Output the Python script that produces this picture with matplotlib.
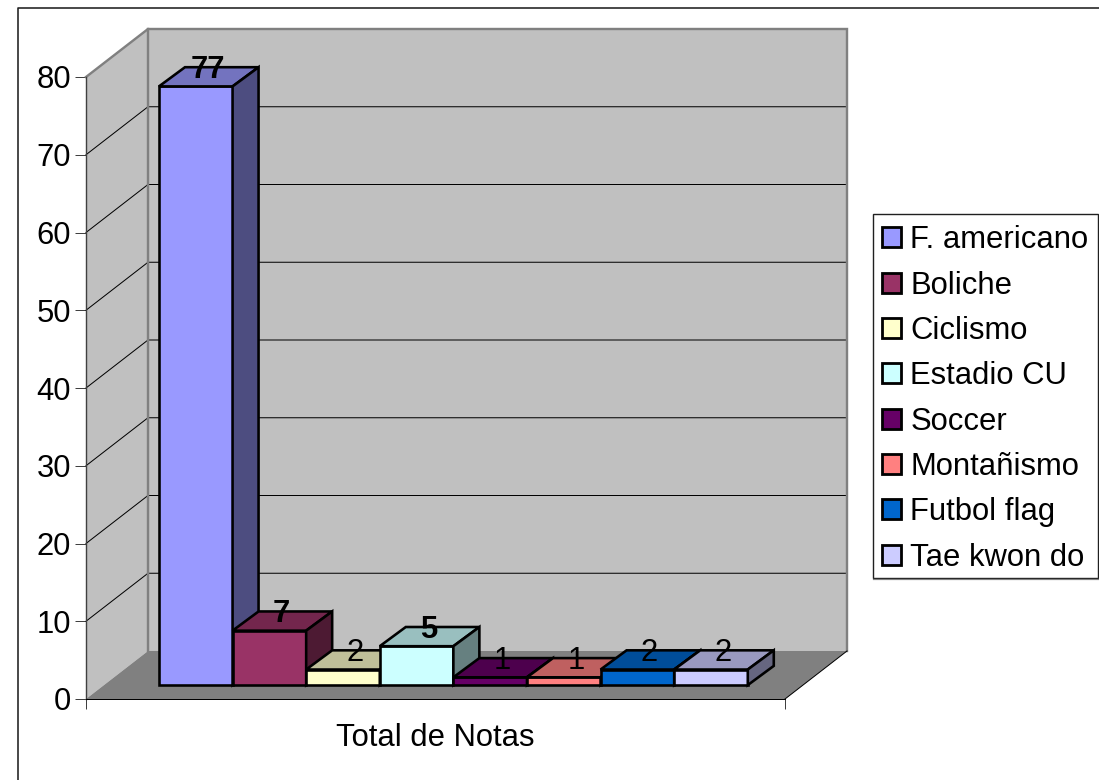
import matplotlib
matplotlib.use("Agg")
import matplotlib.pyplot as plt
from matplotlib.lines import Line2D
from matplotlib.patches import Polygon, Patch, Rectangle

plt.rcParams['font.family'] = ['Liberation Sans', 'DejaVu Sans']

categories = ["F. americano", "Boliche", "Ciclismo", "Estadio CU",
              "Soccer", "Montañismo", "Futbol flag", "Tae kwon do"]
values = [77, 7, 2, 5, 1, 1, 2, 2]
colors = ["#9999FF", "#993366", "#FFFFCC", "#CCFFFF",
          "#660066", "#FF8080", "#0066CC", "#CCCCFF"]
bold_labels = [True, True, False, True, False, False, False, False]
y_ticks = list(range(0, 90, 10))
x_label = "Total de Notas"

W, H = 1099, 780
PX = 0.72  # points per pixel at dpi 100
FONT = 31 * PX


def shade(hex_color, k):
    r, g, b = matplotlib.colors.to_rgb(hex_color)
    return (r * k, g * k, b * k)


fig = plt.figure(figsize=(W / 100, H / 100), dpi=100, facecolor="white")
ax = fig.add_axes([86 / W, 1 - 699 / H, 699 / W, 622 / H])
ax.set_xlim(-0.747, 8.75)
ax.set_ylim(0, 80)
x0, x1 = ax.get_xlim()

# oblique projection: depth 0..1 shifts a point right and up
DX = 62 / 73.6
DY = 48 / (622 / 80)
D0, D1 = 0.29, 0.69
DXB = 26 / 73.6 / (D1 - D0)


def proj(x, y, d):
    return (x + d * DX, y + d * DY)


def bar_proj(x, y, d):
    return (x + D0 * DX + (d - D0) * DXB, y + d * DY)


def face(pts, fn=proj, **kw):
    ax.add_patch(Polygon([fn(*p) for p in pts], closed=True, clip_on=False, **kw))


# walls and floor
wall = "#C0C0C0"
edge = "#808080"
face([(x0, 0, 1), (x1, 0, 1), (x1, 80, 1), (x0, 80, 1)], facecolor=wall, edgecolor="none", zorder=1)
face([(x0, 0, 0), (x0, 0, 1), (x0, 80, 1), (x0, 80, 0)], facecolor=wall, edgecolor="none", zorder=1)
face([(x0, 0, 0), (x1, 0, 0), (x1, 0, 1), (x0, 0, 1)], facecolor=edge, edgecolor="none", zorder=1)

# gridlines on both walls
for t in y_ticks[1:-1]:
    pts = [proj(x0, t, 0), proj(x0, t, 1), proj(x1, t, 1)]
    ax.plot(*zip(*pts), color="black", lw=1 * PX, clip_on=False, zorder=2)

# wall outline
pts = [proj(x0, 80, 0), proj(x0, 80, 1), proj(x1, 80, 1), proj(x1, 0, 1)]
ax.plot(*zip(*pts), color=edge, lw=2.4 * PX, clip_on=False, zorder=3, solid_joinstyle="miter")
pts = [proj(x0, 0, 1), proj(x0, 80, 1)]
ax.plot(*zip(*pts), color=edge, lw=2.4 * PX, clip_on=False, zorder=3)
pts = [proj(x1, 0, 0), proj(x1, 0, 1)]
ax.plot(*zip(*pts), color="black", lw=1 * PX, clip_on=False, zorder=3)

# bars
for i, (v, c) in enumerate(zip(values, colors)):
    kw = dict(fn=bar_proj, edgecolor="black", linewidth=2.6 * PX, joinstyle="miter", zorder=4 + i * 0.01)
    face([(i, 0, D0), (i + 1, 0, D0), (i + 1, v, D0), (i, v, D0)], facecolor=c, **kw)
    face([(i, v, D0), (i + 1, v, D0), (i + 1, v, D1), (i, v, D1)], facecolor=shade(c, 0.75), **kw)
    face([(i + 1, 0, D0), (i + 1, 0, D1), (i + 1, v, D1), (i + 1, v, D0)], facecolor=shade(c, 0.5), **kw)

# value labels
for i, (v, b) in enumerate(zip(values, bold_labels)):
    x, _ = bar_proj(i + 0.5, v, (D0 + D1) / 2)
    _, y = bar_proj(i + 0.5, v, D1)
    ax.annotate(str(v), (x, y), xytext=(-1 * PX, -3 * PX), textcoords="offset points",
                ha="center", va="center", fontsize=FONT,
                fontweight="bold" if b else "normal", color="black", zorder=6,
                annotation_clip=False)

# axes
for s in ("top", "right"):
    ax.spines[s].set_visible(False)
ax.spines["left"].set_color("#404040")
ax.spines["left"].set_linewidth(1.4 * PX)
ax.spines["bottom"].set_color("black")
ax.spines["bottom"].set_linewidth(1 * PX)
ax.spines["left"].set_zorder(3)
ax.spines["bottom"].set_zorder(3)
ax.patch.set_visible(False)
ax.set_yticks(y_ticks)
ax.set_xticks([x0, x1])
ax.set_xticklabels([])
ax.tick_params(axis="y", length=11 * PX, width=1 * PX, labelsize=FONT, pad=4 * PX, color="#404040")
ax.tick_params(axis="x", length=10 * PX, width=1 * PX, color="#404040")
ax.set_xlabel(x_label, fontsize=FONT, labelpad=6.5)

# legend: frame drawn separately
fig.add_artist(Rectangle((873 / W, 1 - 578 / H), (1098 - 873) / W, (578 - 214) / H,
                         transform=fig.transFigure, facecolor="white", edgecolor="#202020",
                         linewidth=1.4 * PX, zorder=1))
fig.add_artist(Line2D([873 / W, 1098 / W], [1 - 579 / H, 1 - 579 / H], transform=fig.transFigure,
                      color="#808080", lw=1.2 * PX, zorder=1))
handles = [Patch(facecolor=c, edgecolor="black", linewidth=2.8 * PX, label=n)
           for c, n in zip(colors, categories)]
leg = fig.legend(handles=handles, loc="center left",
                 bbox_to_anchor=(873 / W, 1 - 399 / H), fontsize=FONT,
                 frameon=False,
                 handlelength=0.61, handleheight=0.61, handletextpad=0.3,
                 labelspacing=0.495, borderpad=0.29, borderaxespad=0)
leg.set_zorder(2)

# chart frame: only top and left sides show
fig.add_artist(Line2D([18 / W, 18 / W, 1], [0, 1 - 8 / H, 1 - 8 / H], transform=fig.transFigure,
                      color="#202020", lw=1.6 * PX, zorder=0))

fig.savefig("out.png", dpi=100)
